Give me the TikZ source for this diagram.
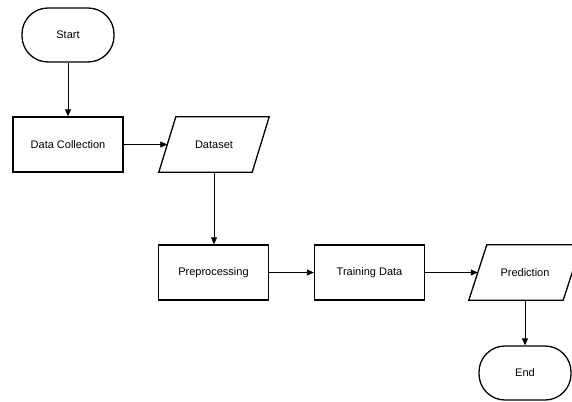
\documentclass[tikz,border=0pt]{standalone}
\usepackage{fontspec}
\setmainfont{Liberation Sans}
\usetikzlibrary{arrows.meta}
\begin{document}
\begin{tikzpicture}[x=1pt,y=-1pt,
  every node/.style={font=\fontsize{11}{13}\selectfont, inner sep=0pt},
  term/.style={draw, line width=1.3pt, rounded corners=26pt, minimum width=92pt, minimum height=54pt},
  proc/.style={draw, line width=1.3pt, minimum width=110pt, minimum height=55pt},
  io/.style={minimum width=#1, minimum height=55pt},
  para/.style={line width=1.3pt, line join=miter},
  conn/.style={line width=0.8pt, -{Triangle[length=7pt,width=6pt]}}
]
\useasboundingbox (0,0) rectangle (572,401);
\clip (0,0) rectangle (572,401);
\node[term] (start) at (68,35) {Start};
\node[proc] (dc) at (68,144.5) {Data Collection};
\node[io=110pt] (ds) at (214,144.5) {Dataset};
\draw[para] (ds.south west) -- ([xshift=17pt]ds.north west) -- (ds.north east) -- ([xshift=-17pt]ds.south east) -- cycle;
\node[proc] (pre) at (213.5,272.5) {Preprocessing};
\node[proc] (td) at (369.5,272.5) {Training Data};
\node[io=112pt] (pr) at (525,272.5) {Prediction};
\draw[para] (pr.south west) -- ([xshift=18pt]pr.north west) -- (pr.north east) -- ([xshift=-18pt]pr.south east) -- cycle;
\node[term] (end) at (525,373) {End};
\coordinate (dsin) at ([xshift=8.5pt]ds.west);
\coordinate (prin) at ([xshift=9pt]pr.west);
\draw[conn] (start) -- (dc);
\draw[conn] (dc) -- (dsin);
\draw[conn] (ds.south) -- (ds.south |- pre.north);
\draw[conn] (pre) -- (td);
\draw[conn] (td) -- (prin);
\draw[conn] (pr) -- (end);
\end{tikzpicture}
\end{document}
